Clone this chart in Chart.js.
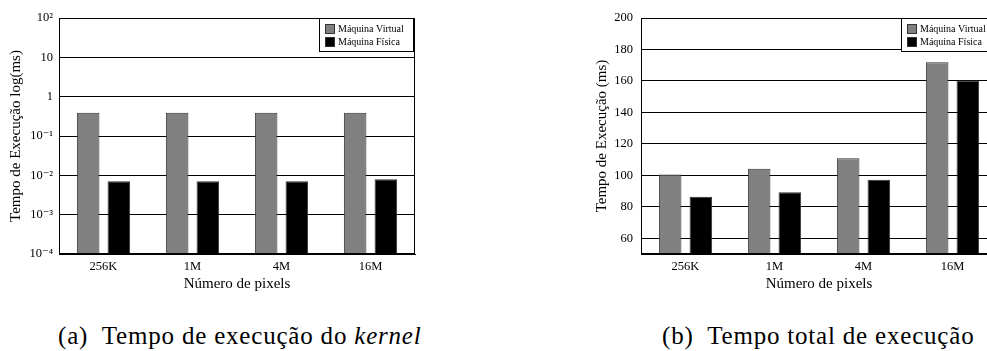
<!DOCTYPE html>
<html><head><meta charset="utf-8">
<script src="https://cdn.jsdelivr.net/npm/chart.js@4/dist/chart.umd.min.js"></script>
<style>
html,body{margin:0;padding:0;background:#fff;overflow:hidden;width:987px;height:351px}
#wrap{position:relative;width:987px;height:351px;overflow:hidden}
canvas{position:absolute;top:0}
.cap{position:absolute;font-family:"Liberation Serif","Times New Roman",Times,"DejaVu Serif",serif;font-size:25px;letter-spacing:0.8px;line-height:26px;color:#000;white-space:nowrap;top:323px}
</style></head><body>
<div id="wrap">
<canvas id="c1" width="440" height="300" style="left:0"></canvas>
<canvas id="c2" width="440" height="300" style="left:585px"></canvas>
<div class="cap" style="left:58px">(a)&nbsp; Tempo de execução do <i>kernel</i></div>
<div class="cap" style="left:662px">(b)&nbsp; Tempo total de execução</div>
</div>
<script>
const categories = ['256K', '1M', '4M', '16M'];
const seriesNames = ['Máquina Virtual', 'Máquina Física'];
const kernelVirtual = [0.39, 0.39, 0.39, 0.39];
const kernelPhysical = [0.0071, 0.0071, 0.0071, 0.0079];
const totalVirtual = [100.5, 104.2, 110.8, 171.9];
const totalPhysical = [86.4, 89.2, 97.2, 160.2];
const kernelTicks = [1e-4, 1e-3, 1e-2, 1e-1, 1, 10, 100];
const kernelTickLabels = ['10⁻⁴', '10⁻³', '10⁻²', '10⁻¹', '1', '10', '10²'];
const totalTicks = [60, 80, 100, 120, 140, 160, 180, 200];
const xTitle = 'Número de pixels';
const kernelYTitle = 'Tempo de Execução log(ms)';
const totalYTitle = 'Tempo de Execução (ms)';

const FAMILY = '"Liberation Serif", "Times New Roman", Times, "DejaVu Serif", serif';
Chart.defaults.font.family = FAMILY;
Chart.defaults.color = '#000';
Chart.defaults.animation = false;

const frame = {
  id: 'frame',
  afterDatasetsDraw(chart) {
    const {ctx, chartArea: a} = chart;
    ctx.save();
    ctx.strokeStyle = '#000'; ctx.lineWidth = 1;
    ctx.strokeRect(Math.round(a.left) + 0.5, Math.round(a.top) + 0.5, Math.round(a.right - a.left) - 1, Math.round(a.bottom - a.top) - 1);
    ctx.restore();
  }
};
const boxLegend = {
  id: 'boxLegend',
  afterDraw(chart) {
    const {ctx, chartArea: a} = chart;
    const w = 94, h = 33, x = Math.round(a.right) - 2 - w, y = Math.round(a.top);
    ctx.save();
    ctx.fillStyle = '#fff'; ctx.fillRect(x, y, w, h);
    ctx.strokeStyle = '#000'; ctx.lineWidth = 1; ctx.strokeRect(x + 0.5, y + 0.5, w, h);
    ctx.font = '10px ' + FAMILY; ctx.textBaseline = 'middle';
    chart.data.datasets.forEach((ds, i) => {
      const cy = y + 11 + i * 12.5;
      ctx.fillStyle = ds.backgroundColor; ctx.fillRect(x + 6, Math.round(cy - 5), 10, 10);
      ctx.strokeStyle = '#333'; ctx.strokeRect(x + 6.5, Math.round(cy - 5) + 0.5, 9, 9);
      ctx.fillStyle = '#000'; ctx.fillText(ds.label, x + 19, cy + 0.5);
    });
    ctx.restore();
  }
};

function makeChart(id, v1, v2, yScale, yAxisWidth, titlePad, rightPad) {
  return new Chart(document.getElementById(id), {
    type: 'bar',
    data: {
      labels: categories,
      datasets: [
        {label: seriesNames[0], data: v1, backgroundColor: '#808080', borderColor: '#333', borderWidth: 1,
         categoryPercentage: 0.69, barPercentage: 0.735},
        {label: seriesNames[1], data: v2, backgroundColor: '#000', borderColor: '#333', borderWidth: 1,
         categoryPercentage: 0.69, barPercentage: 0.735}
      ]
    },
    options: {
      responsive: false,
      devicePixelRatio: 1,
      layout: {padding: {top: 18, right: rightPad, left: 0, bottom: 0}},
      plugins: {legend: {display: false}, tooltip: {enabled: false}},
      scales: {
        x: {
          grid: {display: false, drawTicks: false},
          border: {display: true, color: '#000'},
          ticks: {padding: 5, font: {size: 12.5}, color: '#000'},
          title: {display: true, text: xTitle, font: {size: 15}, padding: {top: 0, bottom: 7}},
          afterFit: s => { s.height = 46; }
        },
        y: Object.assign({
          grid: {color: '#000', lineWidth: 1, drawTicks: false},
          border: {display: true, color: '#000'},
          afterFit: s => { s.width = yAxisWidth; }
        }, yScale, {
          title: {display: true, text: yScale.titleText, font: {size: 15}, padding: {top: titlePad, bottom: 0}}
        })
      }
    },
    plugins: [frame, boxLegend]
  });
}

makeChart('c1', kernelVirtual, kernelPhysical, {
  type: 'logarithmic', min: 1e-4, max: 100, titleText: kernelYTitle,
  afterBuildTicks: s => { s.ticks = kernelTicks.map(v => ({value: v, major: true})); },
  ticks: {padding: 6, font: {size: 12.5}, color: '#000',
    callback: (v) => { const i = kernelTicks.findIndex(t => Math.abs(t - v) / t < 1e-6); return i >= 0 ? kernelTickLabels[i] : ''; }}
}, 59, 7, 25);

makeChart('c2', totalVirtual, totalPhysical, {
  type: 'linear', min: 50, max: 200, titleText: totalYTitle,
  afterBuildTicks: s => { s.ticks = totalTicks.map(v => ({value: v})); },
  ticks: {padding: 8, font: {size: 12.5}, color: '#000'}
}, 56, 8, 28);
</script>
</body></html>
